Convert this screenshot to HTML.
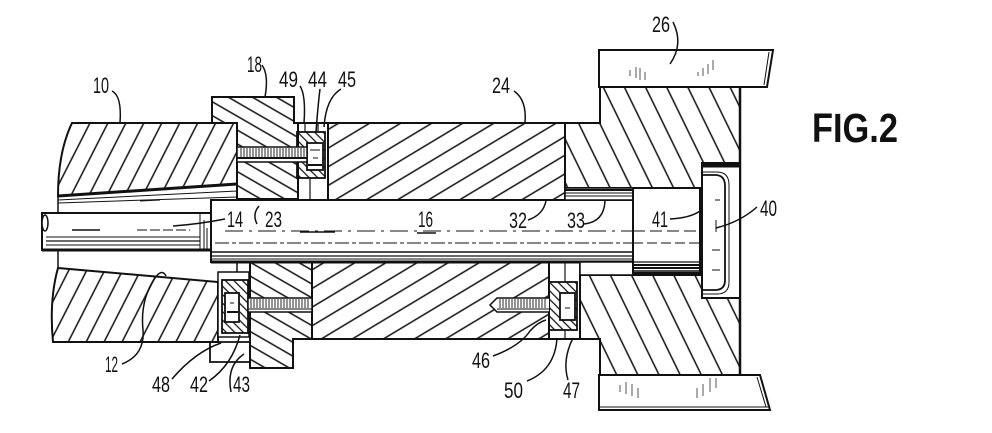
<!DOCTYPE html>
<html><head><meta charset="utf-8"><style>
html,body{margin:0;padding:0;background:#fff;}
svg{display:block;}
text{font-family:"Liberation Sans",sans-serif;fill:#111;}
</style></head><body>
<svg width="992" height="433" viewBox="0 0 992 433" xmlns="http://www.w3.org/2000/svg">
<defs>
<pattern id="h10" width="60" height="16" patternUnits="userSpaceOnUse" patternTransform="rotate(-63)"><line x1="0" y1="8" x2="60" y2="8" stroke="#111" stroke-width="1.4"/></pattern>
<pattern id="h18" width="60" height="12" patternUnits="userSpaceOnUse" patternTransform="rotate(30)"><line x1="0" y1="6" x2="60" y2="6" stroke="#111" stroke-width="1.4"/></pattern>
<pattern id="h24" width="60" height="16" patternUnits="userSpaceOnUse" patternTransform="rotate(-31)"><line x1="0" y1="8" x2="60" y2="8" stroke="#111" stroke-width="1.4"/></pattern>
<pattern id="h26" width="60" height="19" patternUnits="userSpaceOnUse" patternTransform="rotate(64)"><line x1="0" y1="9" x2="60" y2="9" stroke="#111" stroke-width="1.4"/></pattern>
<pattern id="hn" width="20" height="6" patternUnits="userSpaceOnUse" patternTransform="rotate(45)"><line x1="0" y1="3" x2="20" y2="3" stroke="#111" stroke-width="1.2"/></pattern>
</defs>

<g stroke="#111" stroke-width="2" fill="none" stroke-linejoin="miter">
<!-- Block 10 upper -->
<path d="M72,123 L237,123 L237,184 L58,196 Q58,152 72,123 Z" fill="url(#h10)"/>
<line x1="58" y1="196" x2="237" y2="184" stroke-width="3"/>
<!-- bore lines upper -->
<line x1="58" y1="200" x2="237" y2="191" stroke-width="1"/>
<line x1="58" y1="203" x2="237" y2="197" stroke-width="1"/>
<line x1="58" y1="196" x2="58" y2="213" stroke-width="1.5"/>
<line x1="140" y1="201" x2="160" y2="200" stroke-width="1"/>
<!-- Block 10 lower -->
<path d="M58,268 L218,282 L218,342 L53,342 Q49,300 58,268 Z" fill="url(#h10)"/>
<line x1="58" y1="250" x2="58" y2="268" stroke-width="1.5"/>

<!-- Block 18 upper -->
<path d="M212,97 L294,97 L294,123 L298,123 L298,199 L237,199 L237,123 L212,123 Z" fill="url(#h18)"/>
<!-- Block 18 lower -->
<path d="M250,262 L312,262 L312,339 L293,339 L293,368 L250,368 Z" fill="url(#h18)"/>
<!-- 43 ring -->
<path d="M250,342 L210,342 L210,362 L250,362" stroke-width="1.8"/>
<!-- stub -->
<rect x="237" y="262" width="13" height="11" stroke-width="1.5"/>

<!-- Block 24 upper & lower -->
<rect x="328" y="123" width="237" height="77" fill="url(#h24)"/>
<line x1="294" y1="123" x2="600" y2="123"/>
<rect x="312" y="262" width="237" height="77" fill="url(#h24)"/>
<line x1="312" y1="339" x2="600" y2="339"/>
<line x1="600" y1="339" x2="600" y2="377"/>

<!-- Block 26 upper & lower -->
<path d="M565,123 L600,123 L600,87 L740,87 L740,163 L702,163 L702,188 L565,188 Z" fill="url(#h26)"/>
<path d="M580,275 L702,275 L702,298 L740,298 L740,375 L600,375 L600,339 L580,339 Z" fill="url(#h26)"/>
<line x1="740" y1="87" x2="740" y2="375" stroke-width="2.5"/>
<line x1="702" y1="163" x2="702" y2="298"/>
<!-- Plate 26 upper -->
<path d="M599,50 L773,50 L767,87 L599,87 Z" fill="#fff"/>
<line x1="769" y1="52" x2="764" y2="85" stroke-width="1"/>
<!-- Plate 26 lower -->
<path d="M599,375 L760,375 L770,410 L599,410 Z" fill="#fff"/>
<line x1="757" y1="377" x2="766" y2="407" stroke-width="1"/>
<line x1="599" y1="407" x2="768" y2="407" stroke-width="1"/>
</g>

<!-- plate marks -->
<g stroke="#555" stroke-width="1">
<line x1="630" y1="70" x2="630" y2="76"/><line x1="636" y1="67" x2="636" y2="78"/><line x1="640" y1="68" x2="640" y2="80"/><line x1="645" y1="72" x2="645" y2="80"/>
<line x1="698" y1="72" x2="698" y2="76"/><line x1="703" y1="68" x2="703" y2="76"/><line x1="708" y1="64" x2="708" y2="74"/><line x1="713" y1="60" x2="713" y2="70"/>
<line x1="620" y1="385" x2="620" y2="392"/><line x1="626" y1="382" x2="626" y2="394"/><line x1="632" y1="384" x2="632" y2="396"/><line x1="638" y1="388" x2="638" y2="398"/>
<line x1="697" y1="388" x2="697" y2="398"/><line x1="703" y1="384" x2="703" y2="396"/><line x1="710" y1="378" x2="710" y2="392"/><line x1="716" y1="378" x2="716" y2="388"/>
</g>

<g stroke="#111" stroke-width="1.8" fill="none">
<!-- upper washer column -->
<rect x="297" y="132" width="28" height="46" fill="url(#hn)"/>
<rect x="307" y="143" width="16" height="27" fill="#fff"/>
<line x1="310" y1="150" x2="320" y2="150" stroke-width="1"/>
<line x1="313" y1="158" x2="318" y2="158" stroke-width="1"/>
<line x1="308" y1="165" x2="322" y2="165" stroke-width="2"/>
<line x1="310" y1="178" x2="310" y2="199" stroke-width="1.2"/>
<line x1="318" y1="123" x2="318" y2="132" stroke-width="1.2"/>
<line x1="305" y1="123" x2="305" y2="132" stroke-width="1.2"/>
<line x1="328" y1="123" x2="328" y2="200"/>
<!-- upper screw thread -->
<rect x="237" y="147" width="70" height="15" fill="#fff" stroke-width="1.5"/>
<line x1="237" y1="158" x2="307" y2="158" stroke-width="2"/>
<path d="M241,148v9M244,148v9M247,148v9M250,148v9M253,148v9M256,148v9M259,148v9M262,148v9M265,148v9M268,148v9M271,148v9M274,148v9M277,148v9M280,148v9M283,148v9M286,148v9M289,148v9M292,148v9M295,148v9M298,148v9M301,148v9M304,148v9" stroke-width="0.9"/>

<!-- lower left nut -->
<rect x="218" y="272" width="31" height="65" fill="#fff" stroke-width="1.5"/>
<rect x="222" y="280" width="26" height="53" fill="url(#hn)"/>
<rect x="225" y="293" width="14" height="29" fill="#fff"/>
<line x1="227" y1="312" x2="238" y2="312" stroke-width="2"/>
<line x1="230" y1="303" x2="234" y2="303" stroke-width="1"/>
<rect x="248" y="298" width="64" height="14" fill="#fff" stroke-width="1.5"/>
<line x1="248" y1="309" x2="312" y2="309" stroke-width="1"/>
<path d="M251,299v9M254,299v9M257,299v9M260,299v9M263,299v9M266,299v9M269,299v9M272,299v9M275,299v9M278,299v9M281,299v9M284,299v9M287,299v9M290,299v9M293,299v9M296,299v9M299,299v9M302,299v9M305,299v9M308,299v9" stroke-width="0.9"/>

<!-- lower right nut -->
<line x1="549" y1="262" x2="549" y2="339"/>
<line x1="565" y1="262" x2="565" y2="282" stroke-width="1.2"/>
<line x1="565" y1="330" x2="565" y2="339" stroke-width="1.2"/>
<line x1="580" y1="262" x2="580" y2="339"/>
<rect x="549" y="282" width="28" height="48" fill="url(#hn)"/>
<rect x="560" y="293" width="15" height="27" fill="#fff"/>
<line x1="565" y1="308" x2="570" y2="308" stroke-width="1"/>
<path d="M549,298 L497,298 L490,305 L497,312 L549,312" fill="#fff" stroke-width="1.5"/>
<path d="M500,299v9M503,299v9M506,299v9M509,299v9M512,299v9M515,299v9M518,299v9M521,299v9M524,299v9M527,299v9M530,299v9M533,299v9M536,299v9M539,299v9M542,299v9M545,299v9" stroke-width="0.9"/>
<line x1="497" y1="309" x2="549" y2="309" stroke-width="1"/>
</g>

<!-- Rods -->
<g stroke="#111" fill="none">
<!-- rod 14 -->
<rect x="42" y="213" width="169" height="37" fill="#fff" stroke-width="2"/>
<line x1="42" y1="250" x2="211" y2="250" stroke-width="3"/>
<ellipse cx="45" cy="223" rx="3" ry="8" fill="#fff" stroke-width="1.5"/>
<line x1="46" y1="237" x2="200" y2="237" stroke-width="1"/>
<line x1="46" y1="241" x2="200" y2="241" stroke-width="1.2"/>
<line x1="46" y1="245" x2="200" y2="245" stroke-width="1"/>
<line x1="72" y1="230" x2="100" y2="230" stroke-width="1.5"/>
<line x1="137" y1="230" x2="190" y2="230" stroke-width="1" stroke-dasharray="10,3"/>
<line x1="173" y1="226" x2="185" y2="225" stroke-width="1"/>
<line x1="200" y1="213" x2="200" y2="250" stroke-width="1"/>
<line x1="204" y1="220" x2="204" y2="250" stroke-width="1"/>
<line x1="207" y1="228" x2="207" y2="250" stroke-width="1"/>

<!-- rod 16 -->
<rect x="211" y="200" width="422" height="62" fill="#fff" stroke-width="2"/>
<line x1="211" y1="262" x2="633" y2="262" stroke-width="3"/>
<line x1="211" y1="252" x2="633" y2="252" stroke-width="1.4"/>
<line x1="211" y1="256" x2="633" y2="256" stroke-width="1.2"/>
<line x1="211" y1="259" x2="633" y2="259" stroke-width="1"/>
<line x1="215" y1="243" x2="633" y2="243" stroke-width="1" stroke-dasharray="14,3,4,3"/>
<line x1="225" y1="231" x2="633" y2="231" stroke-width="1" stroke-dasharray="18,6,3,6"/>
<line x1="300" y1="232" x2="335" y2="232" stroke-width="1.5"/>
<line x1="417" y1="233" x2="436" y2="233" stroke-width="1.6"/>

<!-- sleeve 33 upper -->
<rect x="565" y="188" width="68" height="12" fill="#fff" stroke-width="1.5"/>
<line x1="565" y1="190" x2="633" y2="190" stroke-width="2"/>
<line x1="565" y1="193" x2="633" y2="193" stroke-width="1"/>
<line x1="565" y1="196" x2="633" y2="196" stroke-width="1"/>
<!-- sleeve lower -->
<rect x="580" y="262" width="53" height="13" fill="#fff" stroke-width="1.5"/>

<!-- rod 41 -->
<rect x="633" y="188" width="67" height="85" fill="#fff" stroke-width="2"/>
<line x1="633" y1="262" x2="700" y2="262" stroke-width="1.2"/>
<line x1="633" y1="265" x2="700" y2="265" stroke-width="2"/>
<line x1="633" y1="268" x2="700" y2="268" stroke-width="2"/>
<line x1="633" y1="271" x2="700" y2="271" stroke-width="1.5"/>
<line x1="633" y1="243" x2="700" y2="243" stroke-width="1" stroke-dasharray="10,4"/>
<line x1="633" y1="231" x2="700" y2="231" stroke-width="1" stroke-dasharray="12,5"/>

<!-- cavity & head 40 -->
<rect x="702" y="163" width="38" height="135" fill="#fff" stroke-width="2"/>
<rect x="702" y="163" width="38" height="4" fill="#111" stroke-width="1"/>
<path d="M702,175 L715,175 Q725,175 725,186 L725,280 Q725,290 715,290 L702,290" stroke-width="1.8"/>
<path d="M702,172 L717,172 Q729,172 729,185 L729,282 Q729,294 717,294 L702,294" stroke-width="1"/>
<line x1="702" y1="163" x2="702" y2="298" stroke-width="2"/>
<line x1="715" y1="200" x2="720" y2="200" stroke-width="1"/>
<line x1="712" y1="250" x2="720" y2="250" stroke-width="1"/>
<line x1="712" y1="270" x2="720" y2="270" stroke-width="1"/>
<line x1="716" y1="220" x2="716" y2="232" stroke-width="1"/>
</g>

<!-- Leaders -->
<g stroke="#111" stroke-width="1.5" fill="none">
<path d="M112,91 Q122,96 120,123"/>
<path d="M262,65 Q269,75 265,97"/>
<path d="M300,86 Q306,95 304,123"/>
<path d="M320,89 Q318,105 316,132"/>
<path d="M341,89 Q326,98 324,127"/>
<path d="M514,91 Q527,100 525,123"/>
<path d="M673,22 Q684,44 670,64"/>
<path d="M225,219 Q200,224 173,226"/>
<path d="M259,206 Q252,214 257,224"/>
<path d="M528,220 Q543,215 546,201"/>
<path d="M584,224 Q604,222 605,201"/>
<path d="M670,219 Q690,218 700,211"/>
<path d="M757,207 Q740,222 716,228"/>
<path d="M122,364 Q145,355 143,330 Q140,300 155,278 Q162,268 166,276"/>
<path d="M172,379 Q195,352 221,343"/>
<path d="M209,381 Q232,365 240,335"/>
<path d="M244,354 Q226,366 231,392"/>
<path d="M493,356 Q520,346 530,331 Q538,322 546,320"/>
<path d="M527,381 Q555,370 557,338"/>
<path d="M568,380 Q562,360 573,338"/>
</g>

<!-- Labels -->
<g font-size="22">
<text x="93" y="93" textLength="16" lengthAdjust="spacingAndGlyphs">10</text>
<text x="247" y="72" textLength="15" lengthAdjust="spacingAndGlyphs">18</text>
<text x="279" y="87" textLength="19" lengthAdjust="spacingAndGlyphs">49</text>
<text x="308" y="87" textLength="19" lengthAdjust="spacingAndGlyphs">44</text>
<text x="338" y="87" textLength="18" lengthAdjust="spacingAndGlyphs">45</text>
<text x="492" y="93" textLength="18" lengthAdjust="spacingAndGlyphs">24</text>
<text x="652" y="32" textLength="18" lengthAdjust="spacingAndGlyphs">26</text>
<text x="227" y="227" textLength="16" lengthAdjust="spacingAndGlyphs">14</text>
<text x="265" y="227" textLength="17" lengthAdjust="spacingAndGlyphs">23</text>
<text x="418" y="227" textLength="15" lengthAdjust="spacingAndGlyphs">16</text>
<text x="509" y="228" textLength="18" lengthAdjust="spacingAndGlyphs">32</text>
<text x="567" y="228" textLength="18" lengthAdjust="spacingAndGlyphs">33</text>
<text x="652" y="227" textLength="16" lengthAdjust="spacingAndGlyphs">41</text>
<text x="760" y="216" textLength="17" lengthAdjust="spacingAndGlyphs">40</text>
<text x="105" y="372" textLength="13" lengthAdjust="spacingAndGlyphs">12</text>
<text x="152" y="392" textLength="18" lengthAdjust="spacingAndGlyphs">48</text>
<text x="190" y="392" textLength="18" lengthAdjust="spacingAndGlyphs">42</text>
<text x="233" y="392" textLength="17" lengthAdjust="spacingAndGlyphs">43</text>
<text x="472" y="368" textLength="18" lengthAdjust="spacingAndGlyphs">46</text>
<text x="504" y="398" textLength="19" lengthAdjust="spacingAndGlyphs">50</text>
<text x="563" y="398" textLength="17" lengthAdjust="spacingAndGlyphs">47</text>
</g>
<text x="812" y="142" font-size="41" font-weight="bold" textLength="86" lengthAdjust="spacingAndGlyphs">FIG.2</text>
</svg>
</body></html>
